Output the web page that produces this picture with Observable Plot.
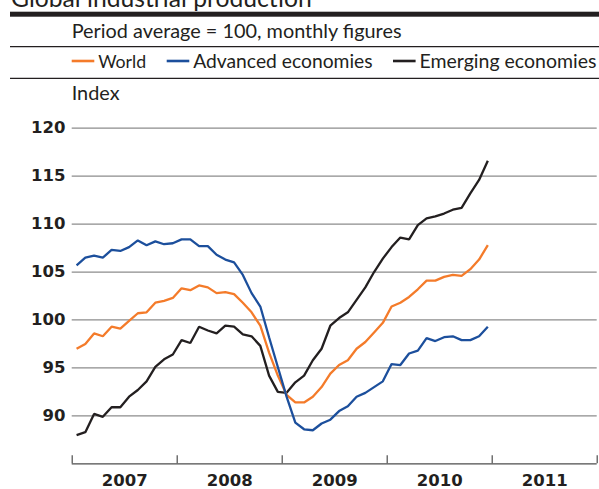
<!DOCTYPE html>
<html><head><meta charset="utf-8">
<script src="https://cdn.jsdelivr.net/npm/d3@7"></script>
<script src="https://cdn.jsdelivr.net/npm/@observablehq/plot@0.6"></script>
<style>
html,body{margin:0;padding:0;background:#fff;overflow:hidden}
#chart{position:relative;width:599px;height:489px;overflow:hidden;background:#fff}
#chart svg{display:block}
#plot{position:absolute;left:0;top:105px}
#head{position:absolute;left:0;top:0}
</style></head><body>
<div id="chart"><svg id="head" width="599" height="105"></svg><div id="plot"></div></div>
<script>
// ---- data ----
const title = "Global industrial production";
const subtitle = "Period average = 100, monthly figures";
const unitLabel = "Index";
const startYear = 2007;
const seriesNames = ["World", "Advanced economies", "Emerging economies"];
const seriesColors = ["#f47b2a", "#1c4f9c", "#231f20"];
const world = [97.0,97.5,98.6,98.3,99.3,99.1,99.9,100.7,100.8,101.8,102.0,102.3,
  103.3,103.1,103.6,103.4,102.8,102.9,102.7,101.8,100.8,99.4,96.6,94.2,
  92.2,91.4,91.4,92.0,93.0,94.4,95.3,95.8,97.0,97.7,98.7,99.7,
  101.4,101.8,102.4,103.2,104.1,104.1,104.5,104.7,104.6,105.3,106.3,107.8];
const advanced = [105.7,106.5,106.7,106.5,107.3,107.2,107.6,108.3,107.8,108.2,107.9,108.0,
  108.4,108.4,107.7,107.7,106.8,106.3,106.0,104.7,102.8,101.4,98.2,95.1,
  92.0,89.3,88.6,88.5,89.2,89.6,90.5,91.0,92.0,92.4,93.0,93.6,
  95.4,95.3,96.5,96.8,98.1,97.8,98.2,98.3,97.9,97.9,98.3,99.3];
const emerging = [88.0,88.3,90.2,89.9,90.9,90.9,92.0,92.7,93.6,95.1,95.9,96.4,
  97.9,97.6,99.3,98.9,98.6,99.4,99.3,98.5,98.3,97.3,94.2,92.5,
  92.4,93.5,94.2,95.8,97.0,99.4,100.2,100.8,102.1,103.4,105.0,106.4,
  107.6,108.6,108.4,109.9,110.6,110.8,111.1,111.5,111.7,113.2,114.6,116.6];
const yTicks = [90, 95, 100, 105, 110, 115, 120];
const yearTicks = [2007, 2008, 2009, 2010, 2011, 2012];
const yearLabels = [2007, 2008, 2009, 2010, 2011];
const yDomain = [85, 120];

// ---- header ----
const ink = "#231f20";
const txtFont = "Lato, 'Open Sans', sans-serif";
const head = d3.select("#head");
function fitText(sel, target) {
  sel.attr("font-size", 100);
  const w = sel.node().getComputedTextLength();
  const fs = 100 * target / w;
  sel.attr("font-size", fs);
  return fs;
}
function addText(x, y, str, width) {
  const s = head.append("text").attr("x", x).attr("y", y).attr("fill", ink)
    .attr("font-family", txtFont).text(str);
  return fitText(s, width);
}
addText(11, 6.5, title, 301);
head.append("rect").attr("x", 10).attr("y", 11.7).attr("width", 589).attr("height", 5).attr("fill", ink);
const fs = addText(71.7, 37.7, subtitle, 330);
head.append("line").attr("x1", 10).attr("x2", 599).attr("y1", 46.7).attr("y2", 46.7).attr("stroke", ink).attr("stroke-width", 1.3);
const legendX = [71.7, 166.7, 393];
const legendW = [48, 179.5, 177];
seriesNames.forEach((name, k) => {
  head.append("line").attr("x1", legendX[k]).attr("x2", legendX[k] + 22.6)
    .attr("y1", 61).attr("y2", 61).attr("stroke", seriesColors[k]).attr("stroke-width", 2.6);
  const s = head.append("text").attr("x", legendX[k] + 26.5).attr("y", 68.3).attr("fill", ink)
    .attr("font-family", txtFont).text(name);
  const f = fitText(s, legendW[k]);
  if (f > fs * 1.08) s.attr("font-size", fs);
});
head.append("line").attr("x1", 10).attr("x2", 599).attr("y1", 78.3).attr("y2", 78.3).attr("stroke", ink).attr("stroke-width", 1.3);
head.append("text").attr("x", 71.7).attr("y", 100).attr("fill", ink)
  .attr("font-family", txtFont).attr("font-size", fs).text(unitLabel);

// ---- plot ----
const seriesValues = [world, advanced, emerging];
const rows = [];
seriesNames.forEach((name, s) => seriesValues[s].forEach((v, i) =>
  rows.push({series: name, t: startYear + (i + 0.5) / 12, value: v})));
const drawOrder = ["Emerging economies", "World", "Advanced economies"];
const numFont = "'DejaVu Sans', sans-serif";
const plot = Plot.plot({
  width: 599, height: 384,
  marginLeft: 71.7, marginRight: 2.3, marginTop: 22.7, marginBottom: 25.7,
  x: {domain: [startYear, 2012], axis: null},
  y: {domain: yDomain, axis: null},
  color: {domain: seriesNames, range: seriesColors},
  style: {background: "white", overflow: "visible"},
  marks: [
    Plot.ruleY(yTicks, {stroke: "#8c8c8c", strokeWidth: 1.3}),
    Plot.text(yTicks, {y: d => d, frameAnchor: "left", dx: -6.7, text: d => String(d), textAnchor: "end",
      fontWeight: "bold", fontSize: 16.5, fontFamily: numFont, fill: ink}),
    Plot.ruleY([yDomain[0]], {stroke: "#4d4d4d", strokeWidth: 1.2}),
    Plot.ruleX(yearTicks, {x: d => d, y1: yDomain[0], y2: yDomain[0], insetTop: -8, stroke: "#4d4d4d", strokeWidth: 1.2}),
    Plot.text(yearLabels, {x: d => d + 0.5, y: yDomain[0], dy: 17, text: d => String(d),
      fontWeight: "bold", fontSize: 16.5, fontFamily: numFont, fill: ink}),
    ...drawOrder.map(name => Plot.line(rows.filter(r => r.series === name),
      {x: "t", y: "value", stroke: "series", strokeWidth: 2.3, strokeLinejoin: "miter", strokeLinecap: "butt"}))
  ]
});
document.getElementById("plot").appendChild(plot);
</script>
</body></html>
